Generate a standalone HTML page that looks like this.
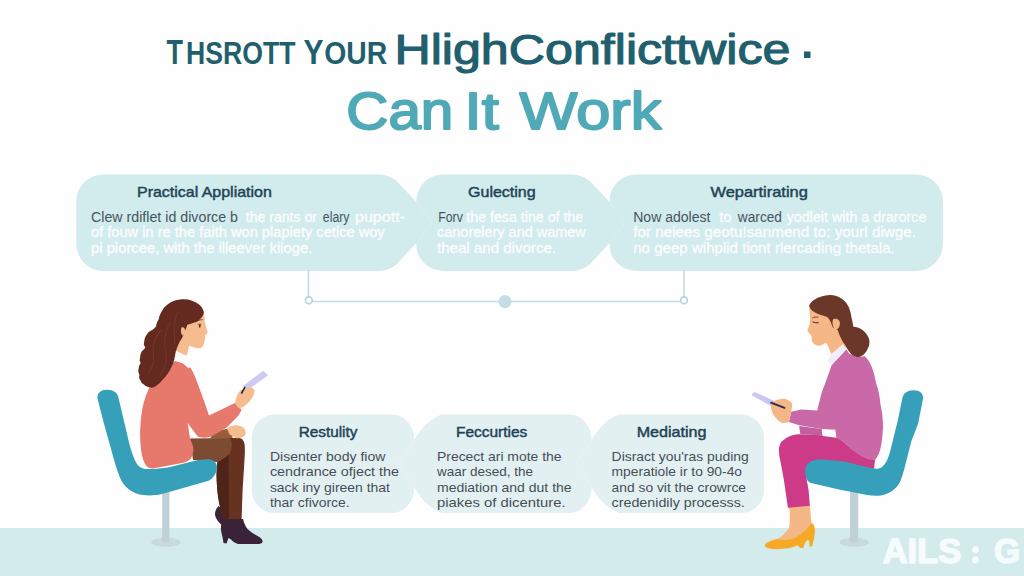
<!DOCTYPE html>
<html>
<head>
<meta charset="utf-8">
<title>Can It Work</title>
<style>
  html, body { margin: 0; padding: 0; background: #ffffff; }
  body { width: 1024px; height: 576px; overflow: hidden; font-family: "Liberation Sans", sans-serif; }
  svg { display: block; }
  text { font-family: "Liberation Sans", sans-serif; }
  .h { fill: #1d4456; font-size: 14.8px; stroke: #1d4456; stroke-width: 0.45px; }
  .bw { fill: #ffffff; font-size: 14px; stroke: #ffffff; stroke-width: 0.35px; opacity: 0.92; }
  .bd { fill: #46555d; font-size: 14px; }
  .lb { fill: #454f55; font-size: 12.6px; }
</style>
</head>
<body>
<svg width="1024" height="576" viewBox="0 0 1024 576">
  <!-- background -->
  <rect x="0" y="0" width="1024" height="576" fill="#fefefe"/>
  <!-- floor -->
  <rect x="0" y="528" width="1024" height="48" fill="#d4ebec"/>

  <!-- TITLE -->
  <g id="title">
    <text x="166.5" y="64.2" font-size="34.5" font-weight="bold" fill="#1f5f6e" textLength="16.5" lengthAdjust="spacingAndGlyphs">T</text>
    <text x="186" y="64.2" font-size="31" font-weight="bold" fill="#1f5f6e" textLength="109.4" lengthAdjust="spacingAndGlyphs">HSROTT</text>
    <text x="303.5" y="64.2" font-size="34.5" font-weight="bold" fill="#1f5f6e" textLength="20" lengthAdjust="spacingAndGlyphs">Y</text>
    <text x="324.3" y="64.2" font-size="31" font-weight="bold" fill="#1f5f6e" textLength="63" lengthAdjust="spacingAndGlyphs">OUR</text>
    <text x="394.4" y="64.1" font-size="42.6" fill="#1f5f6e" stroke="#1f5f6e" stroke-width="1.15" stroke-linejoin="round" textLength="396" lengthAdjust="spacingAndGlyphs">HlighConflicttwice</text>
    <rect x="804" y="51.5" width="6.5" height="6.5" fill="#1f5f6e"/>
    <g font-size="52.2" fill="#50a9b7" stroke="#50a9b7" stroke-width="1.9" stroke-linejoin="round">
      <text x="346.3" y="129.3" textLength="107" lengthAdjust="spacingAndGlyphs">Can</text>
      <text x="464.6" y="129.3" textLength="34.2" lengthAdjust="spacingAndGlyphs">It</text>
      <text x="519.6" y="129.3" textLength="141.8" lengthAdjust="spacingAndGlyphs">Work</text>
    </g>
  </g>

  <!-- TOP BAND -->
  <g id="topband">
    <path fill="#d2ebed" d="M 103.3 174.4 L 378.25 174.4 Q 388.25 174.4 396.25 180.70000000000002 L 416.25 201.75 A 27 27 0 0 1 443.25 174.4 L 571.4 174.4 Q 581.4 174.4 589.4 180.70000000000002 L 609.4 201.75 A 27 27 0 0 1 636.4 174.4 L 916 174.4 A 27 27 0 0 1 943 201.4 L 943 244 A 27 27 0 0 1 916 271 L 636.4 271 A 27 27 0 0 1 609.4 243 L 589.4 264.7 Q 581.4 271 571.4 271 L 443.25 271 A 27 27 0 0 1 416.25 243 L 396.25 264.7 Q 388.25 271 378.25 271 L 103.3 271 A 27 27 0 0 1 76.3 244 L 76.3 201.4 A 27 27 0 0 1 103.3 174.4 Z"/>
  </g>

  <!-- CONNECTORS -->
  <g id="conn" fill="none" stroke="#c2dde2" stroke-width="1.6">
    <path d="M308.5 270 L308.5 297"/>
    <path d="M312 301.5 L681 301.5"/>
    <path d="M684 270 L684 297"/>
    <circle cx="308.8" cy="300.3" r="3.4" fill="#ffffff" stroke="#b4d3d9"/>
    <circle cx="684" cy="300.3" r="3.4" fill="#ffffff" stroke="#b4d3d9"/>
    <circle cx="505" cy="301.6" r="6.6" fill="#c4dfe4" stroke="none"/>
  </g>

  <!-- BOTTOM BAND -->
  <g id="botband">
    <path fill="#e3f0f2" d="M 274.7 414.5 L 392.3 414.5 A 22 25.5 0 0 1 414.3 440 Q 425.90000000000003 420.0 441.90000000000003 414.5 L 569.6 414.5 A 22 25.5 0 0 1 591.6 440 Q 603.2 420.0 619.2 414.5 L 741 414.5 A 23 23 0 0 1 764 437.5 L 764 490 A 23 23 0 0 1 741 513 L 619.2 513 Q 603.2 507.5 591.6 487.6 A 22 25.4 0 0 1 569.6 513 L 441.90000000000003 513 Q 425.90000000000003 507.5 414.3 487.6 A 22 25.4 0 0 1 392.3 513 L 274.7 513 A 23 23 0 0 1 251.7 490 L 251.7 437.5 A 23 23 0 0 1 274.7 414.5 Z"/>
  </g>


  <!-- faint tip lines -->
  <g id="tips" fill="none" stroke="#ffffff" stroke-opacity="0.13" stroke-width="1.4">
    <path d="M416.25 201.75 L432 222.4 L416.25 243"/>
    <path d="M609.4 201.75 L625.4 222.4 L609.4 243"/>
    <path d="M414.3 440 L399 463.8 L414.3 487.6"/>
    <path d="M591.6 440 L576.3 463.8 L591.6 487.6"/>
  </g>

  <!-- LEFT WOMAN -->
  <g id="womanL">
    <!-- chair leg + base -->
    <ellipse cx="166" cy="542.2" rx="14.6" ry="4.5" fill="#c8dadf"/>
    <rect x="162.2" y="490" width="7.2" height="52" fill="#bfd1d7"/>
    <!-- back shoe -->
    <path fill="#3a2238" d="M218.5 506 C215 510 214 514 216 518 C218 522 221 525 225 527 L228 515 Z"/>
    <!-- far knee -->
    <path fill="#9a5c3a" d="M210 438.5 C211.5 435.5 213 433.8 215 432.3 C218 430.5 222.5 429.2 226.7 428.9 C229.5 429.5 231.5 431 232 433 L232.6 438.5 Z"/>
    <!-- thigh (lighter brown) -->
    <path fill="#7d4b32" d="M190 438.6 L231.5 438 C233.5 441 233.5 447 230.5 452.5 C227 458 222 461 217 462 L193 460 Z"/>
    <!-- lower leg -->
    <path fill="#683221" d="M230 438 L239 438 C242.5 438.4 244.3 441 244.7 445 C245 450 244.9 454 244.6 458 L242.6 490 L241.6 519.5 L223.5 519.5 C221 512 219 504 218 496 C216.5 484 216 472 217.4 462 C222 460 227 457 229.8 453 C232 448 232.5 442 230 438 Z"/>
    <path fill="#4e2318" d="M217.4 462 C222 460 226 457.5 228.5 454.5 L229 519.5 L223.5 519.5 C221 512 219 504 218 496 C216.5 484 216 472 217.4 462 Z"/>
    <!-- boot -->
    <path fill="#3a2238" d="M223.5 519 L243 519 C244 523 245.5 526.5 247.5 529 C251 532.5 255 534.5 258.5 536.5 C261 538 263 540 262.5 542 C262 543.5 260 544 257 544 L238 544 C234.5 543 232.5 541 230.5 539 L228.5 538 L226.5 543.5 L223.5 543 C223 538 221.5 534 221 530 C220.6 526 221.5 522 223.5 519 Z"/>
    <!-- chair -->
    <path fill="#369fb9" d="M97.6 399 C96.5 393 101 389.6 107.2 389.8 C113.5 390 117 392.5 118.3 397 L127.5 436 C130 447 132 453 134 458 C136.5 465 140 468.5 146 469 C154 469.3 161 468.5 168 467.5 L193 461.3 C199 460 205 459 210 459.5 C215 460.5 217.5 464 216.8 468.5 C216 474 213.5 478.5 208.5 480.8 L184 487.8 L162 494 C155 495.5 149 495.8 143 495 C137 494 132.5 492 129 489.4 C124.5 486 121.5 482 119.7 477 C116.5 469 114 460 111.9 452 L104 423.8 Z"/>
    <!-- sweater body -->
    <path fill="#e7786c" d="M175 361 C180 362 186 364 190 367 C194 373 196 379 198 384.5 L204.4 402 L209 415.4 L235 403 L241.7 409.8 L238.5 415.5 L227 427.3 L214 435 C208 438.6 201 438.6 196 435.5 L190 439 C192 443 193.5 446 193.3 450 C193 454 192 457 190.5 459 C188 461.5 185 462.5 182 463 L153 468.4 C150 468.5 148 467.5 146.5 466 C143.5 462 142 457 141.3 451.5 C140.2 444 140 436 140.2 429 C140.6 422 141.3 415 142.4 408.6 C143.5 403 145 398 147 393 C149 388 151.5 383.5 155 379.3 C158 375 162 371 166 368 C169 365.5 172 363 175 361 Z"/>
    <!-- white sliver between arm and torso -->
    <path fill="#fefefe" d="M187.6 423 L197.5 436.3 L190 438.2 Z"/>
    <!-- hand on knee -->
    <path fill="#f4bc8f" d="M227 428 C231 426 235 425 238.5 425.5 C242 426 244.5 428 245.3 430.5 C246 433 245.5 435 244.5 436 C241 438 238 438.5 235.5 438 C232.5 436.5 230.5 435 229 433.5 Z"/>
    <!-- paper -->
    <path fill="#cdcbf3" d="M242.8 386.2 L263.1 370.7 L268.2 375.3 L248.4 389.6 Z"/>
    <!-- hand holding paper -->
    <path fill="#f4bc8f" d="M236 398.5 C237 395 238.5 392.5 240.5 390.6 C243.5 388.5 246.5 387.5 249.6 387.2 C252 387.4 254 388.8 254.5 390.6 C254.5 393.5 253.5 396 251.8 398.5 C249.5 401.5 247 404 243.9 406.4 L239 408.5 L234.9 403.5 Z"/>
    <path d="M241.7 393 L244.8 387.4" stroke="#2a2840" stroke-width="1.6" stroke-linecap="round" fill="none"/>
    <!-- neck -->
    <path fill="#f4bc8f" d="M172 330 L190 340 L188.3 350 L186 358 L174 357 Z"/>
    <!-- collar -->
    <path fill="#fbfbfd" d="M175.3 350.5 L187.3 356 C189 359 190.5 362.5 191.2 366.4 L188.3 368.2 C185.5 365.5 183 363.3 180.3 361.3 L174.5 355 Z"/>
    <!-- face -->
    <path fill="#f4bc8f" d="M190 312 L203.8 313.2 C204.5 316 204.8 319 204.7 321.3 C205.5 325 206.7 329 207.7 332.3 C207.2 333.8 206 334.8 205 335.4 C205.4 337 205.2 338.5 204.8 339.7 C204.8 342 204 344.5 202.6 346.4 C201.5 347.8 200 348.3 198.5 348.2 C195 348 192 347 189 345.6 C185 343 182 339 180.5 334 C180 328 182 320 190 312 Z"/>
    <!-- eye/brow -->
    <path d="M195.5 321.8 C197.5 320.6 200 319.8 202.2 319.6" stroke="#8a4a35" stroke-width="1" fill="none" stroke-linecap="round"/>
    <ellipse cx="199.8" cy="326" rx="0.9" ry="1.7" fill="#5a2a1e"/>
    <path d="M197.6 324.6 C198.8 324 200.4 324 201.4 324.5" stroke="#5a2a1e" stroke-width="0.7" fill="none"/>
    <!-- hair -->
    <path fill="#642a20" d="M180.3 299.5 C187 298.5 194.5 300.5 199.4 304.8 C202 307 203.5 309.8 203.9 312.8 C203 316 201.5 318.5 198.6 320.4 C195 322.5 191 323.8 187.3 324.7 C186.5 328 185.3 330 184.2 332 C183.5 336 181.5 339 179.5 342 C178 345 177 348 176 350.8 C175.3 354 174.8 356.5 174.3 359.4 C173.7 362 172.8 364.3 171.7 366.4 C170.5 369.3 169 371.8 167.3 374.2 C165.8 376.5 164 378.5 162.1 380.3 C160.8 382 159.3 383.5 157.8 384.6 C156.2 386.3 154.5 387.4 152.6 387.6 C151.3 387.8 150.1 387.6 149.1 387.2 C147 386.8 145.2 385.9 143.9 384.6 C142.2 383.6 141 382.2 140.4 380.3 C139 378.8 138.8 377 139.5 375.1 C138.2 372.8 138 370.4 138.7 368.1 C138.9 366 139.7 364.3 140.8 362.9 C139.6 361.2 139.4 359.4 140.1 357.7 C140.2 354.9 141 352.6 142.2 350.8 C143.8 349.9 144.8 348.7 145.3 347.3 C143.8 345.6 143.5 343.8 144.2 342.1 C144.3 339.4 145.1 337 146.5 335.1 C147.6 333.2 149 331.8 150.8 330.8 C152.8 329.8 154.5 328.3 156 326.5 C156.4 323.9 157.3 321.6 158.6 319.5 C159.2 316.3 160.4 313.4 162.1 310.8 C163.5 307.9 165.6 305.6 168.2 303.9 C171.5 301.5 175.5 300 180.3 299.5 Z"/>
    <path d="M161 330 C154 338 152 348 153.5 356 C154.5 362 152 368 149 373" stroke="#74352a" stroke-width="1.2" fill="none" stroke-linecap="round"/>
    <path d="M170 322 C164 334 164 346 166 354 C167.5 361 165 369 160 376" stroke="#74352a" stroke-width="1.2" fill="none" stroke-linecap="round"/>
    <path d="M178 312 C173 322 174 334 175 344" stroke="#74352a" stroke-width="1.1" fill="none" stroke-linecap="round"/>
    <!-- ear -->
    <path fill="#f4bc8f" d="M181.5 327.5 C183.5 326.8 185 328 185 330.5 C185 333 184 335 182.3 335.5 C181 334 180.5 330 181.5 327.5 Z"/>
  </g>


  <!-- RIGHT WOMAN -->
  <g id="womanR">
    <!-- chair leg + base -->
    <ellipse cx="854.2" cy="542.2" rx="14.6" ry="4.5" fill="#c8dadf"/>
    <rect x="850" y="488" width="8.2" height="54" fill="#bfd1d7"/>
    <!-- foot skin -->
    <path fill="#f5b786" d="M788 505 L810 504.5 L810.7 515.8 L811.6 523.5 C808 529 803 534 796.7 538 C792 540.5 788 541.5 784 541.5 L776.9 539.4 C779.5 538 781 537 782.1 535.6 C786 532.5 788.5 529.5 789.4 526.25 C790 520 790 514 789.5 509.6 Z"/>
    <!-- shoe -->
    <path fill="#f5a925" d="M811.25 523.1 C809.5 526 807.5 528.3 805 530.4 C802.5 532.8 799.8 534.9 796.7 536.7 C793.5 538.5 790 539.6 786.25 540 C783 540.2 780 539.8 776.9 539 C774 539.6 771 540.6 768.5 541.9 C766.8 542.6 765.5 543.7 764.9 545 C764.7 546.2 765.3 547 766.5 547.6 C769.5 548.7 772.5 549.2 775.8 549.2 C780.5 549.2 785 548.8 789.4 548.1 C792 547.5 794.5 546.6 796.7 545.5 L798.6 545.9 L799.8 548.1 L803.4 548.1 L804.5 544 C805.2 542.6 806 541.3 807.1 540.3 C807.8 540.1 808.5 540.3 809.2 540.8 L809.7 546.6 L812.1 546.6 L813.9 538.75 C814.5 536 814.9 533.2 814.9 530.4 C814.8 528.5 814.5 526.7 813.9 525.2 C813.2 524 812.3 523.4 811.25 523.1 Z"/>
    <!-- pants -->
    <path fill="#cd3a87" d="M836 437 L822 435.2 L799 434.2 C794.5 434.5 790.5 435.5 787 437.5 C784.5 439.5 782.8 440.5 781.6 441.5 C780 443.8 779.2 446.5 778.9 449.2 C778.8 453.5 779.5 457.5 780.5 461.6 L783.8 479.6 L787.9 507.8 L809.8 505.8 L808.7 490.9 L805.9 475.1 C806 472.5 806.5 469.8 807.5 467.2 L812 463 L820 460.5 L844.7 462.6 L867.3 468.2 L874 469 L875 460 L862 456 L851 448.5 L844 442 Z"/>
    <!-- chair -->
    <path fill="#369fb9" d="M922.9 399.5 C924 393.5 920 390 913.4 390.2 C907.5 390.4 903.8 393 902.5 397.5 L897.8 420.6 L890 452 C888.5 458 886 463 883.1 466.1 C881 468.3 878.8 469 876.3 468.8 L867.3 467.2 L844.7 461.6 L819.9 459.3 C816.5 459.5 814 460.2 812 461.1 C808.8 462.5 807 464 806.4 466.1 C805.3 468 805 469.8 805.3 471.7 C805.2 474.3 805.5 476.5 806.4 478.5 C807.3 480.8 808.8 482.2 810.9 483 L840.2 489.8 L867.3 495 C872 495.7 876.5 495.8 880.8 495.4 C885 494.5 888.8 493 892.1 490.9 C895.5 488.5 898 485.5 900 481.9 C902.3 476.5 904 470.5 905.6 463.8 L911.3 441.3 L918.1 423.75 Z"/>
    <!-- jacket body -->
    <path fill="#ca69a8" d="M846.4 349.2 L849 353.6 C854 356 859.5 356.8 864.7 356.2 C868 359 870 362.5 871.6 366.6 C873.5 371.5 874.8 376.5 875.9 382.2 C878.3 389 879.8 396.5 880.4 403.8 C882 411 883 419 883 426.4 C882.8 434 882 442 880.4 449 C879.3 453.5 877.3 457.5 874.7 460.2 C870.5 460 866 458.8 862.3 456.8 C858 454.5 854.5 451.8 851 449 C848.5 446.5 846.5 444.2 844.3 442.2 C841.5 440.3 838.5 438.8 835.2 437.7 L835.2 429.8 L821.7 429.1 L799.1 425.3 L789 421.9 L791.2 411.7 L801.4 409.5 L817.2 410.6 L821.7 392.6 L825.6 382.2 L831.7 364.9 Z"/>
    <!-- far sleeve -->
    <path fill="#c25fa1" d="M799.1 425.9 L821.7 429.1 L822.8 435.4 L800.3 434.3 Z"/>
    <!-- white shirt -->
    <path fill="#fbfafd" d="M821.7 430.9 L835.2 429.8 L836.4 437.7 L822.8 435.9 Z"/>
    <!-- phone -->
    <path fill="#c9c7f1" d="M751.6 395.2 C752.3 393.2 753.8 392.2 755.4 392.3 L775.5 401.6 L773 407 Z"/>
    <!-- hands -->
    <path fill="#f5b786" d="M770.9 406.1 C771.8 403.5 773.3 401.6 775.5 400.5 C779 399 782.5 398.6 785.6 398.9 C788.5 400 790.8 401.6 792.4 403.8 L791.2 411.7 L789 421.9 C786.8 422.8 784.5 423.2 782.2 423 C779.5 421.6 777.3 419.7 775.5 417.4 C773.8 415.5 772.7 413.6 772 411.7 C771.2 409.8 770.8 408 770.9 406.1 Z"/>
    <path d="M771 402.6 L784.5 407.9" stroke="#2b2a5c" stroke-width="1.8" stroke-linecap="round" fill="none"/>
    <!-- neck -->
    <path fill="#f5b786" d="M822 336 L838 326 L847 347 L832 356 L828.5 347 Z"/>
    <!-- collar -->
    <path fill="#f1edf8" d="M831.7 353.6 L843 344 L846.4 349.2 L831.7 364.9 L827.3 361.4 Z"/>
    <!-- face -->
    <path fill="#f5b786" d="M809.4 306 C809.2 310 809.6 313.5 810 316.3 C810.2 319.5 810 322.5 809.4 324.9 C808.6 327 807.8 329 807.4 331 C808.3 332.5 809.4 333.7 810.5 334.5 C810.8 335.5 811.3 336.3 811.7 337.1 C811.5 338.2 811.5 339.2 811.7 340.2 C812.2 341.8 813.1 343 814.3 344 C815.6 345 817 345.7 818.6 345.8 C820.8 345.5 822.8 344.5 824.7 343.2 L838 341 L840 320 L820 308 Z"/>
    <!-- hair -->
    <path fill="#6b3728" d="M829.9 295.1 C824 295.3 818.5 297 814.3 299.8 C811.8 301.3 810 303.3 809.1 305.8 C809.8 308 811 309.8 812.6 311 C814.8 312.6 817 313.7 819.5 314.5 C822 315.5 824.8 316.3 827.3 317.1 C828.8 318.6 830 320.3 830.8 322.3 C831.5 324.5 832 326 833 327.5 C834.5 328.5 836.3 329.3 837.7 330.1 C838.6 333 839.8 336 841.2 338.8 C842.5 341.5 844 343.8 845.6 345.8 C847.3 349.2 849.3 352 851.6 354.4 C853.8 356 856.2 356.9 858.6 357 C860.9 356.5 863 355.3 864.7 353.6 C866.6 351.3 868 348.7 869 345.8 C869.6 343.5 869.6 341 869 338.8 C868.2 336.2 866.7 333.9 864.7 331.9 C862.7 330 860.3 328.5 857.7 327.5 C856.3 326.9 854.8 326.7 853.4 326.7 C852.9 323.8 852.3 320.8 851.6 318 C851.1 314.4 850.2 310.9 849 307.6 C847.5 304 845.2 301.1 842.1 298.9 C838.6 296.5 834.4 295.2 829.9 295.1 Z"/>
    <!-- ear -->
    <path fill="#f5b786" d="M833.2 319.2 C836.5 317.8 839.8 319.5 839.9 323 C840 326.5 838.3 329.3 835.6 329.8 C833 327.5 831.5 323 833.2 319.2 Z"/>
    <!-- eye/brow -->
    <path d="M812.2 318 C814 317 816.5 316.8 818.3 317.3" stroke="#6b3728" stroke-width="0.9" fill="none"/>
    <path d="M812.6 321.9 C814.5 322.7 816.8 322.9 818.7 322.7" stroke="#4a271e" stroke-width="1" fill="none"/>
  </g>

  <!-- TEXT TOP -->
  <g id="texttop">
    <text class="h" x="137" y="197" textLength="134.8" lengthAdjust="spacingAndGlyphs">Practical Appliation</text>
    <text class="h" x="468" y="197" textLength="67.7" lengthAdjust="spacingAndGlyphs">Gulecting</text>
    <text class="h" x="710.5" y="197" textLength="97.3" lengthAdjust="spacingAndGlyphs">Wepartirating</text>
    <text class="bd" x="91" y="221.6" textLength="147" lengthAdjust="spacingAndGlyphs">Clew rdiflet id divorce b</text>
    <text class="bw" x="245.8" y="221.6" textLength="71.2" lengthAdjust="spacingAndGlyphs">the rants or</text>
    <text class="bd" x="322.8" y="221.6" textLength="26.7" lengthAdjust="spacingAndGlyphs">elary</text>
    <text class="bw" x="355" y="221.6" textLength="50" lengthAdjust="spacingAndGlyphs">pupott-</text>
    <text class="bw" x="91" y="237.4" textLength="293.7" lengthAdjust="spacingAndGlyphs">of fouw in re the faith won plapiety cetice woy</text>
    <text class="bw" x="91" y="253" textLength="221.3" lengthAdjust="spacingAndGlyphs">pi piorcee, with the illeever kiioge.</text>
    <text class="bd" x="438.2" y="221.6" textLength="24.6" lengthAdjust="spacingAndGlyphs">Forv</text>
    <text class="bw" x="466.3" y="221.6" textLength="116.9" lengthAdjust="spacingAndGlyphs">the fesa tine of the</text>
    <text class="bw" x="437" y="237.4" textLength="148.8" lengthAdjust="spacingAndGlyphs">canorelery and wamew</text>
    <text class="bw" x="437" y="253" textLength="119" lengthAdjust="spacingAndGlyphs">theal and divorce.</text>
    <text class="bd" x="633.2" y="221.6" textLength="77.3" lengthAdjust="spacingAndGlyphs">Now adolest</text>
    <text class="bw" x="719.3" y="221.6" textLength="12.3" lengthAdjust="spacingAndGlyphs">to</text>
    <text class="bd" x="737.8" y="221.6" textLength="44.2" lengthAdjust="spacingAndGlyphs">warced</text>
    <text class="bw" x="786.7" y="221.6" textLength="139.7" lengthAdjust="spacingAndGlyphs">yodleit with a drarorce</text>
    <text class="bw" x="633.2" y="237.4" textLength="282.8" lengthAdjust="spacingAndGlyphs">for neiees geotu!sanmend to: yourl diwge.</text>
    <text class="bw" x="633.2" y="253" textLength="261.6" lengthAdjust="spacingAndGlyphs">no geep wihplid tiont rlercading thetala.</text>
  </g>

  <!-- TEXT BOTTOM -->
  <g id="textbot">
    <text class="h" x="298.7" y="437.3" textLength="58.7" lengthAdjust="spacingAndGlyphs">Restulity</text>
    <text class="h" x="456" y="437.3" textLength="71.3" lengthAdjust="spacingAndGlyphs">Feccurties</text>
    <text class="h" x="636.7" y="437.3" textLength="69.8" lengthAdjust="spacingAndGlyphs">Mediating</text>
    <text class="lb" x="269.9" y="461.1" textLength="115.5" lengthAdjust="spacingAndGlyphs">Disenter body fiow</text>
    <text class="lb" x="269.9" y="476.4" textLength="129.1" lengthAdjust="spacingAndGlyphs">cendrance ofject the</text>
    <text class="lb" x="269.9" y="491.6" textLength="120.1" lengthAdjust="spacingAndGlyphs">sack iny gireen that</text>
    <text class="lb" x="269.9" y="506.8" textLength="79.8" lengthAdjust="spacingAndGlyphs">thar cfivorce.</text>
    <text class="lb" x="437" y="461.1" textLength="124.5" lengthAdjust="spacingAndGlyphs">Precect ari mote the</text>
    <text class="lb" x="437" y="476.4" textLength="96" lengthAdjust="spacingAndGlyphs">waar desed, the</text>
    <text class="lb" x="437" y="491.6" textLength="134.6" lengthAdjust="spacingAndGlyphs">mediation and dut the</text>
    <text class="lb" x="437" y="506.8" textLength="128.6" lengthAdjust="spacingAndGlyphs">piakes of dicenture.</text>
    <text class="lb" x="611.6" y="461.1" textLength="137.2" lengthAdjust="spacingAndGlyphs">Disract you'ras puding</text>
    <text class="lb" x="611.6" y="476.4" textLength="130.4" lengthAdjust="spacingAndGlyphs">mperatiole ir to 90-4o</text>
    <text class="lb" x="611.6" y="491.6" textLength="134.4" lengthAdjust="spacingAndGlyphs">and so vit the crowrce</text>
    <text class="lb" x="611.6" y="506.8" textLength="133.2" lengthAdjust="spacingAndGlyphs">credenidily processs.</text>
  </g>

  <!-- WATERMARK -->
  <g id="wm" font-size="35" font-weight="bold" fill="#f6fbfc" stroke="#f6fbfc" stroke-width="1.5" stroke-linejoin="round">
    <text x="882.5" y="563.3" textLength="79" lengthAdjust="spacingAndGlyphs">AILS</text>
    <circle cx="975.6" cy="549.6" r="3.4" stroke="none"/>
    <circle cx="975.6" cy="560" r="3.4" stroke="none"/>
    <text x="994" y="563.3" textLength="26" lengthAdjust="spacingAndGlyphs">G</text>
  </g>
</svg>
</body>
</html>
